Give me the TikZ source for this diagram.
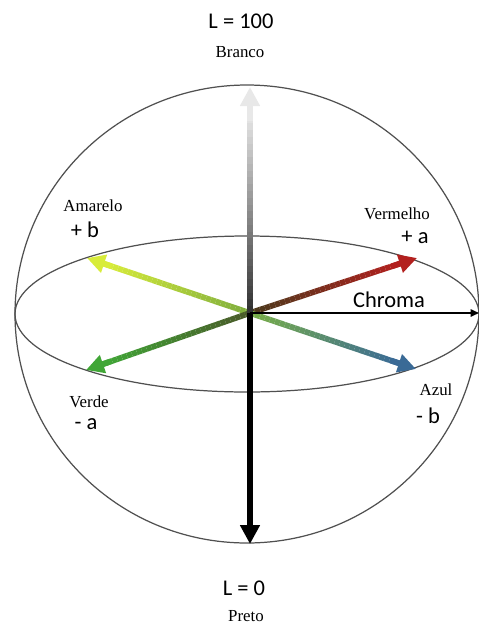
\documentclass[tikz,border=0pt]{standalone}
\usepackage{fontspec}
\setmainfont{Liberation Serif}
\newfontfamily\calib{Carlito}
\usepackage{tikz}
\usetikzlibrary{arrows.meta,calc}
\definecolor{rimgray}{HTML}{505050}
\definecolor{yelA}{HTML}{7FAE3E}
\definecolor{yelB}{HTML}{D8EC3A}
\definecolor{redA}{HTML}{4A3A1C}
\definecolor{redB}{HTML}{B3201E}
\definecolor{grnA}{HTML}{4A5A2A}
\definecolor{grnB}{HTML}{40A636}
\definecolor{bluA}{HTML}{78AE48}
\definecolor{bluB}{HTML}{3A6A96}
\definecolor{upA}{HTML}{333333}
\definecolor{upB}{HTML}{E8E8E8}

\begin{document}
\begin{tikzpicture}[x=0.02cm, y=-0.02cm,
  rim/.style={draw=rimgray, line width=0.7pt},
  axis/.style={line width=3.3pt},
  tipped/.style={-{Triangle[length=0.36cm, width=0.36cm]}},
  vtipped/.style={-{Triangle[length=0.38cm, width=0.38cm]}},
  word/.style={anchor=base, inner sep=0pt, font=\fontsize{9.6}{11}\selectfont},
  sign/.style={anchor=base, inner sep=0pt, font=\calib\fontsize{12.8}{15}\selectfont}
]
\useasboundingbox (0,0) rectangle (479,623);

% sphere
\coordinate (s) at (247,314);
\draw[rim] (s) ellipse[x radius=232, y radius=229];
\draw[rim] (s) ellipse[x radius=232, y radius=78];

% tips
\coordinate (o) at (250,313);
\coordinate (yel) at (87,258);
\coordinate (red) at (417,258);
\coordinate (grn) at (86,370);
\coordinate (blu) at (416,369);
\coordinate (top) at (250,87);
\coordinate (bot) at (250,544);
\coordinate (chr) at (479,313);

% colour axes, shaded in steps
\foreach \tip/\ca/\cb in {yel/yelA/yelB, red/redA/redB, grn/grnA/grnB, blu/bluA/bluB, top/upA/upB} {
  \foreach \i in {0,...,29} {
    \pgfmathsetmacro\p{100*\i/29}
    \draw[axis, draw=\cb!\p!\ca] ($(o)!{0.9*\i/30}!(\tip)$) -- ($(o)!{0.9*(\i+1)/30}!(\tip)$);
  }
}
\foreach \tip/\cb in {yel/yelB, red/redB, grn/grnB, blu/bluB}
  \draw[axis, tipped, draw=\cb, fill=\cb] ($(o)!0.85!(\tip)$) -- (\tip);
\draw[axis, vtipped, draw=upB, fill=upB] ($(o)!0.85!(top)$) -- (top);
\draw[axis, vtipped, black] (o) -- (bot);
\draw[line width=0.9pt, -{Triangle[length=0.17cm, width=0.15cm]}] (o) -- (chr);

% labels
\node[sign] (l100) at (241,28) {L = 100};
\node[word] (white) at (240,57) {Branco};
\node[word] (yellow) at (93,211) {Amarelo};
\node[sign] (pb) at (85,237) {+ b};
\node[word] (redw) at (397,219) {Vermelho};
\node[sign] (pa) at (415,243) {+ a};
\node[sign] (chroma) at (389,307) {Chroma};
\node[word] (green) at (89,407) {Verde};
\node[sign] (ma) at (86,429) {- a};
\node[word] (blue) at (436,395) {Azul};
\node[sign] (mb) at (428,423) {- b};
\node[sign] (l0) at (244,595) {L = 0};
\node[word] (black) at (246,621) {Preto};
\end{tikzpicture}
\end{document}
